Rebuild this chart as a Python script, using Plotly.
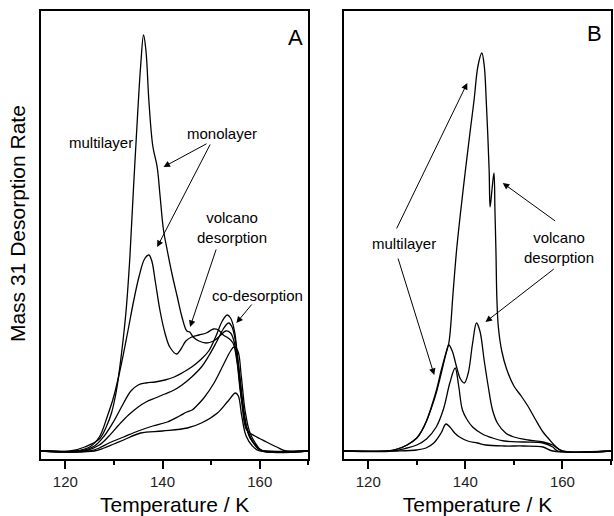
import plotly.graph_objects as go

# ---------------- Panel A data (Temperature K, desorption rate a.u.) ----------------
a1_T = [115, 121, 124, 127, 128.5, 129.5, 130.5, 131.5, 132.5, 133.3, 134, 134.8, 135.5, 136.1, 136.6, 137.2, 138, 138.9,
        139.5, 140.2, 141, 142, 143, 144, 145, 145.6, 146.3, 147.5, 149, 150.5, 152, 153, 154, 154.8, 155.5, 156.3,
        157.3, 159, 161.4, 163.5, 165.4, 170]
a1_y = [0, 0, 4, 12, 25, 38, 60, 95, 140, 195, 260, 330, 385, 416, 400, 350, 305, 284,
        255, 221, 200, 176, 155, 134, 120, 119, 114, 110, 108, 110, 116, 120, 118, 108, 85, 50,
        21, 15, 9, 4, 0, 0]

a2_T = [115, 122, 125, 127, 128.6, 130, 131.4, 132.8, 134.1, 135.2, 136.3, 137.2, 137.8, 138.5, 139.5, 140.5, 141.5,
        142.9, 143.8, 144.8, 146, 147.5, 149, 150.5, 151.5, 152.5, 153.5, 154.5, 155.3, 156, 157, 158, 159.5, 160.5, 170]
a2_y = [0, 0, 4, 14, 34, 55, 84, 118, 151, 175, 192, 196, 190, 170, 140, 118, 104,
        97, 102, 110, 114, 116, 118, 122, 121, 116, 113, 108, 90, 60, 30, 13, 4, 0, 0]

a3_T = [115, 123, 126, 128, 130, 132, 133.5, 135, 136.6, 138.5, 140.5, 142.4, 144, 146, 148, 149.5, 151, 152.3, 153.3,
        154, 154.8, 155.5, 156.3, 157.2, 158.5, 160, 161, 170]
a3_y = [0, 0, 5, 15, 30, 48, 60, 66, 68, 69, 71, 74, 78, 84, 92, 100, 115, 130, 136,
        133, 120, 90, 55, 25, 10, 2, 0, 0]

a4_T = [115, 124, 127, 129, 131, 133, 135, 136.6, 138.5, 140.5, 142.4, 144, 146, 148, 149.5, 151, 152.5, 153.6,
        154.3, 155, 155.8, 156.6, 157.5, 158.8, 160, 161, 170]
a4_y = [0, 0, 6, 15, 26, 36, 44, 49, 53, 57, 61, 66, 74, 84, 95, 108, 122, 128,
        124, 110, 80, 45, 20, 7, 1, 0, 0]

a5_T = [115, 125, 127, 129, 132, 135, 138, 141, 143.5, 145, 146.1, 147, 148.5, 150.6, 152.5, 154, 154.7, 155.5,
        156.2, 157, 158, 159.5, 160.5, 170]
a5_y = [0, 0, 3, 8, 14, 20, 25, 29, 35, 39, 41, 45, 53, 68, 86, 100, 104, 100,
        75, 40, 18, 5, 0, 0]

a6_T = [115, 126, 128, 130, 132, 135.5, 140, 145.1, 148, 151.3, 153.5, 155, 155.6, 156.3, 157.2, 158.5, 160, 170]
a6_y = [0, 0, 3, 7, 11, 18, 20, 23, 28, 38, 50, 58, 55, 35, 15, 5, 0, 0]

# ---------------- Panel B data ----------------
b1_T = [115, 124, 126, 128, 130, 131, 132, 133, 134, 135, 136, 136.6, 137.5, 138.2, 139, 140, 141, 141.8, 142.6,
        143.4, 143.9, 144.3, 144.9, 145.1, 145.5, 145.9, 146.1, 146.3, 146.5, 146.8, 147.5, 148.5, 150, 151.5, 153,
        154.5, 156, 157.2, 158.5, 160, 170]
b1_y = [0, 0, 2, 6, 13, 20, 30, 44, 60, 80, 98, 108, 160, 201, 238, 280, 320, 351, 385,
        398, 385, 351, 281, 244, 262, 278, 240, 201, 152, 124, 100, 82, 65, 55, 44,
        31, 19, 12, 5, 0, 0]

b2_T = [115, 124, 126, 128, 130, 131, 132, 133, 134, 135, 136, 136.6, 137.3, 138.2, 139, 139.8, 140.6, 141.5,
        142.3, 143, 143.9, 144.7, 145.6, 146.6, 148.3, 150, 153, 156, 158, 160, 170]
b2_y = [0, 0, 2, 6, 13, 20, 30, 43, 58, 77, 97, 106, 100, 84, 72, 68, 78, 108,
        128, 120, 90, 65, 41, 28, 18, 14, 11, 9, 6, 0, 0]

b3_T = [115, 125, 128, 130, 132, 134, 135.5, 136.8, 137.9, 138.6, 139.4, 140.4, 141.5, 143.5, 145.6, 148, 152, 156,
        158, 159, 170]
b3_y = [0, 0, 3, 6, 12, 24, 42, 68, 83, 66, 41, 31, 24, 17, 13, 10, 9, 8,
        4, 0, 0]

b4_T = [115, 126, 130, 131.9, 133.5, 135, 136, 136.8, 137.8, 138.8, 140.5, 142.5, 144.2, 148, 152, 156, 158, 170]
b4_y = [0, 0, 1, 3, 8, 18, 27, 24, 18, 14, 10, 8, 6, 5, 5, 4, 0, 0]

x_ticks = [120, 140, 160]
x_title = "Temperature / K"
y_title = "Mass 31 Desorption Rate"

FONT = "Liberation Sans, Arial, sans-serif"
LINE = dict(color="black", width=1.3)

fig = go.Figure()
for T, y in [(a1_T, a1_y), (a2_T, a2_y), (a3_T, a3_y), (a4_T, a4_y), (a5_T, a5_y), (a6_T, a6_y)]:
    fig.add_trace(go.Scatter(x=T, y=y, mode="lines", line=LINE, xaxis="x", yaxis="y",
                             line_shape="spline", hoverinfo="skip", showlegend=False))
for T, y in [(b1_T, b1_y), (b2_T, b2_y), (b3_T, b3_y), (b4_T, b4_y)]:
    fig.add_trace(go.Scatter(x=T, y=y, mode="lines", line=LINE, xaxis="x2", yaxis="y2",
                             line_shape="spline", hoverinfo="skip", showlegend=False))

xaxis_common = dict(range=[115, 170], tickmode="array", tickvals=x_ticks, ticks="outside", ticklen=8,
                    tickwidth=1.5, tickcolor="black", showline=True, linecolor="black", linewidth=2,
                    mirror=True, showgrid=False, zeroline=False,
                    minor=dict(tickmode="array", tickvals=[130, 150, 170], ticks="outside", ticklen=4,
                               tickwidth=1.5, tickcolor="black", showgrid=False),
                    tickfont=dict(family=FONT, size=15, color="#222"),
                    title=dict(text=x_title, font=dict(family=FONT, size=21, color="black"), standoff=8))
yaxis_common = dict(range=[-8, 440], showticklabels=False, ticks="", showline=True, linecolor="black",
                    linewidth=2, mirror=True, showgrid=False, zeroline=False)

fig.update_layout(
    width=614, height=516, margin=dict(l=41, r=1, t=11, b=57),
    paper_bgcolor="white", plot_bgcolor="white",
    xaxis=dict(domain=[0, 0.469], anchor="y", **xaxis_common),
    xaxis2=dict(domain=[0.5315, 1], anchor="y2", **xaxis_common),
    yaxis=dict(domain=[0, 1], anchor="x", **yaxis_common),
    yaxis2=dict(domain=[0, 1], anchor="x2", **yaxis_common),
)

TF = dict(family=FONT, size=15, color="black")
anns = [
    # panel labels
    dict(x=167.4, y=414, xref="x", yref="y", text="A", showarrow=False, font=dict(family=FONT, size=22, color="black")),
    dict(x=166.7, y=418, xref="x2", yref="y2", text="B", showarrow=False, font=dict(family=FONT, size=22, color="black")),
    # panel A texts
    dict(x=127.3, y=309, xref="x", yref="y", text="multilayer", showarrow=False, font=TF),
    dict(x=152.2, y=318, xref="x", yref="y", text="monolayer", showarrow=False, font=TF),
    dict(x=154.2, y=224, xref="x", yref="y", text="volcano<br>desorption", showarrow=False, font=TF),
    dict(x=159.6, y=156, xref="x", yref="y", text="co-desorption", showarrow=False, font=TF),
    # panel B texts
    dict(x=127.4, y=208, xref="x2", yref="y2", text="multilayer", showarrow=False, font=TF),
    dict(x=159.2, y=204, xref="x2", yref="y2", text="volcano<br>desorption", showarrow=False, font=TF),
    # y title
    dict(x=-0.0402, y=0.5246, xref="paper", yref="paper", text=y_title, textangle=-90, showarrow=False,
         xanchor="center", yanchor="middle", font=dict(family=FONT, size=21, color="black")),
]
arrows = [
    ("x", "y", 140.2, 284, 149.35, 308),
    ("x", "y", 138.9, 204, 149.96, 308),
    ("x", "y", 145.67, 124, 151.13, 203),
    ("x", "y", 155.2, 128, 158.6, 148),
    ("x2", "y2", 140.4, 368, 125.7, 221),
    ("x2", "y2", 133.6, 76, 126.05, 194),
    ("x2", "y2", 147.7, 268, 158.8, 229),
    ("x2", "y2", 144.15, 129, 158.5, 183),
]
for xr, yr, hx, hy, tx, ty in arrows:
    anns.append(dict(x=hx, y=hy, xref=xr, yref=yr, ax=tx, ay=ty, axref=xr, ayref=yr, text="",
                     showarrow=True, arrowhead=2, arrowsize=1.3, arrowwidth=1, arrowcolor="black"))
fig.update_layout(annotations=anns)

fig.write_html("out.html")
